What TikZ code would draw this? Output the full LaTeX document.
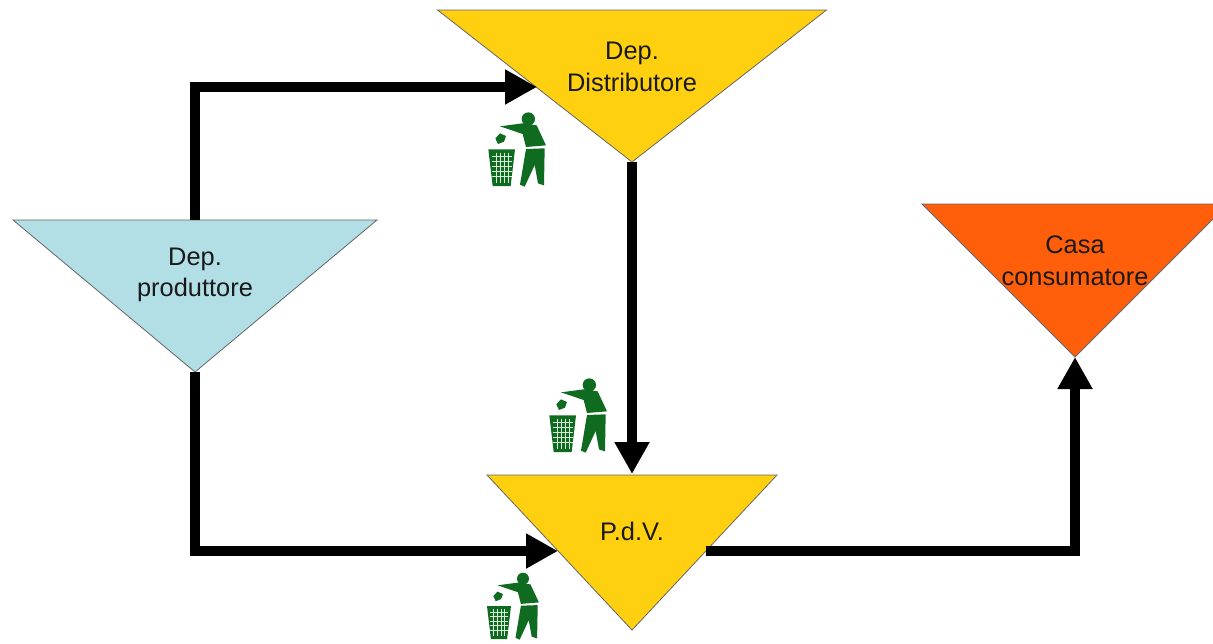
\documentclass[tikz,border=0pt]{standalone}
\usepackage{fontspec}
\setmainfont{Liberation Sans}
\usetikzlibrary{arrows.meta}
\usetikzlibrary{shapes.geometric}

\definecolor{depblue}{HTML}{B2DEE5}
\definecolor{depyellow}{HTML}{FFD010}
\definecolor{deporange}{HTML}{FF5F0A}
\definecolor{bingreen}{HTML}{0F6B1F}

\tikzset{
  invtri/.style={isosceles triangle,isosceles triangle stretches,shape border rotate=270,
    anchor=apex,inner sep=0pt,outer sep=0pt,draw=black!60,line width=0.8pt},
  lbl/.style={align=center,font=\fontsize{25.4}{31.5}\selectfont,text=black!90},
  flow/.style={line width=10.5pt,-{Triangle[length=32pt,width=33pt]}},
  litterman/.pic={
    \fill[bingreen] (175,57) circle (20);
    \fill[bingreen] (90,79) -- (158,70) -- (200,76) -- (228,136) -- (168,141) -- (158,102) -- cycle;
    \fill[bingreen] (168,147) -- (224,145) -- (222,256) -- (204,250) -- (194,195) -- (164,260) -- (150,254) -- cycle;
    \fill[bingreen] (76,115) -- (90,100) -- (108,108) -- (102,125) -- (84,132) -- cycle;
    \fill[bingreen] (55,148) -- (135,148) -- (122,258) -- (68,258) -- cycle;
    \foreach \gx in {78,90,102,114}
      \draw[white!85!bingreen,line width=1pt] (\gx,158) -- (\gx,248);
    \foreach \gy in {168,183,198,213,228}
      \draw[white!85!bingreen,line width=1pt] (65,\gy) -- (126,\gy);
  }
}

\begin{document}
\begin{tikzpicture}[x=1pt,y=-1pt]

      \useasboundingbox (0,0) rectangle (1213,643);
      \clip (0,0) rectangle (1213,643);

      \node (produttore) [invtri,fill=depblue,minimum width=364pt,minimum height=152pt] at (195,372) {};
      \node (distributore) [invtri,fill=depyellow,minimum width=389pt,minimum height=152pt] at (632,162) {};
      \node (pdv) [invtri,fill=depyellow,minimum width=290pt,minimum height=155pt] at (632,630) {};
      \node (casa) [invtri,fill=deporange,minimum width=306pt,minimum height=153pt] at (1075,357) {};

      \node (produttoretxt) [lbl] at (195,275) {Dep.\\produttore};
      \node (distributoretxt) [lbl] at (632,67) {Dep.\\Distributore};
      \node (pdvtxt) [lbl] at (632,531) {P.d.V.};
      \node (casatxt) [lbl] at (1075,261) {Casa\\consumatore};

      \coordinate (distin) at (537,87);
      \coordinate (pdvin) at (558,551);
      \coordinate (pdvtop) at (632,474);
      \coordinate (pdvout) at (705.5,551);

      \draw[flow] (195,220) |- (distin);
      \draw[flow] (produttore.apex) |- (pdvin);
      \draw[flow] (distributore.apex) -- (pdvtop);
      \draw[flow] (pdvout) -| (casa.apex);

      \pic[scale=1/3] (bin1) at (470,100) {litterman};
      \pic[scale=1/3] (bin2) at (531,366) {litterman};
      \pic[scale=0.3] (bin3) at (470.5,561.6) {litterman};

\end{tikzpicture}
\end{document}
